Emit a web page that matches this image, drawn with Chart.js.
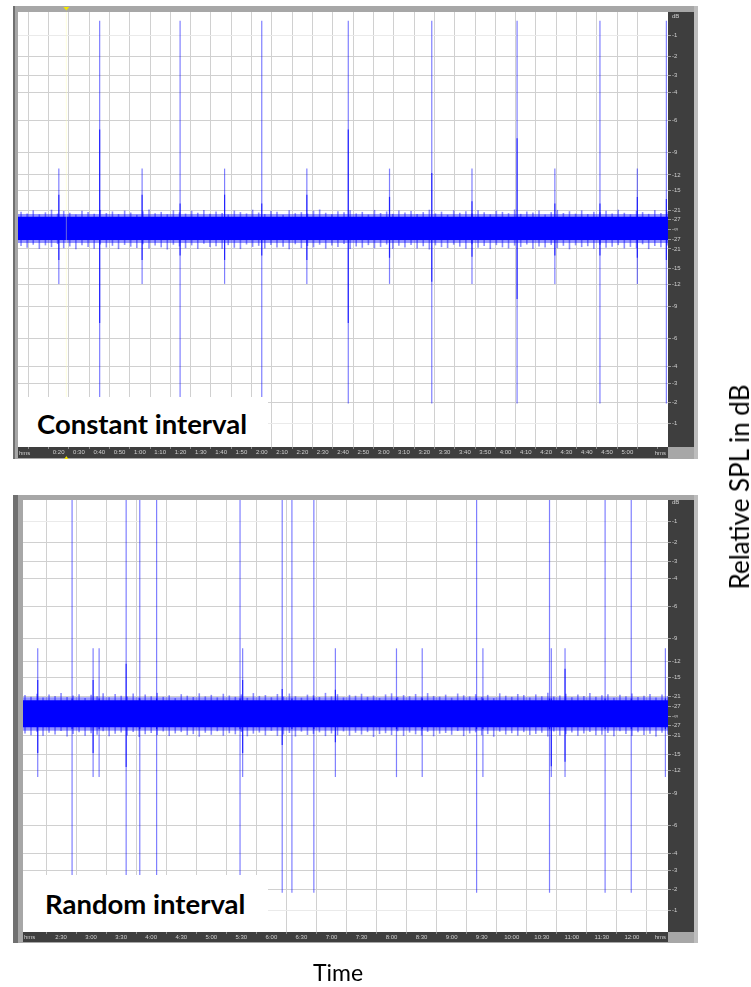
<!DOCTYPE html>
<html>
<head>
<meta charset="utf-8">
<script src="https://cdn.jsdelivr.net/npm/chart.js@4.4.1/dist/chart.umd.min.js"></script>
<style>
  html, body { margin: 0; padding: 0; background: #fff; }
  body { width: 751px; height: 987px; position: relative; overflow: hidden; font-family: Lato, "Open Sans", sans-serif; }
  canvas { position: absolute; left: 0; }
  #waveTop { top: 0; }
  #waveBottom { top: 480px; }
  .tag { position: absolute; background: #fff; }
  .tag span { position: absolute; font-weight: 700; font-size: 27.5px; line-height: 28px; color: #000; white-space: nowrap; }
  #axisY { position: absolute; left: 739px; top: 487px; transform: translate(-50%, -50%) rotate(-90deg); font-size: 26px; color: #000; white-space: nowrap; }
  #axisX { position: absolute; left: 338px; top: 972px; transform: translate(-50%, -50%); font-size: 23px; color: #000; white-space: nowrap; }
</style>
</head>
<body>
<canvas id="waveTop" width="751" height="470"></canvas>
<canvas id="waveBottom" width="751" height="480"></canvas>
<div class="tag" style="left:18px; top:397px; width:250px; height:50px;"><span style="left:19px; top:13px;">Constant interval</span></div>
<div class="tag" style="left:23px; top:875px; width:245px; height:57px;"><span style="left:22px; top:15px;">Random interval</span></div>
<div id="axisY">Relative SPL in dB</div>
<div id="axisX">Time</div>

<script>
// ---- level ruler (dB marks, placed on a linear amplitude axis) ----
const dbLevels = [-1, -2, -3, -4, -6, -9, -12, -15, -21, -27];
const dbUnitLabel = 'dB';

// ---- time rulers (seconds) and their labels ----
const timeTicksTop = [0, 10, 20, 30, 40, 50, 60, 70, 80, 90, 100, 110, 120, 130, 140, 150, 160, 170, 180, 190,
  200, 210, 220, 230, 240, 250, 260, 270, 280, 290, 300, 310, 320];
const timeLabelsTop = ['', '', '0:20', '0:30', '0:40', '0:50', '1:00', '1:10', '1:20', '1:30', '1:40', '1:50', '2:00',
  '2:10', '2:20', '2:30', '2:40', '2:50', '3:00', '3:10', '3:20', '3:30', '3:40', '3:50', '4:00', '4:10', '4:20',
  '4:30', '4:40', '4:50', '5:00', '', ''];
const timeTicksBottom = [120, 150, 180, 210, 240, 270, 300, 330, 360, 390, 420, 450, 480, 510, 540, 570, 600,
  630, 660, 690, 720, 750];
const timeLabelsBottom = ['', '2:30', '3:00', '3:30', '4:00', '4:30', '5:00', '5:30', '6:00', '6:30', '7:00',
  '7:30', '8:00', '8:30', '9:00', '9:30', '10:00', '10:30', '11:00', '11:30', '12:00', ''];

// ---- constant interval recording: click events (s) and peak amplitudes (full scale = 1) ----
const eventTimesTop = [20.1, 40.2, 61.1, 79.8, 101.7, 120.0, 142.2, 162.6, 182.9, 203.7, 223.5, 245.7, 264.3, 286.5, 304.9, 319.2];
const peakHighTop = [0.28, 0.96, 0.28, 0.96, 0.28, 0.96, 0.28, 0.96, 0.28, 0.96, 0.28, 0.96, 0.28, 0.96, 0.28, 0.96];
const peakLowTop = [-0.25, -0.80, -0.25, -0.80, -0.25, -0.80, -0.25, -0.80, -0.25, -0.80, -0.25, -0.80, -0.25, -0.80, -0.25, -0.80];
const coreHighTop = [0.16, 0.46, 0.16, 0.12, 0.16, 0.12, 0.16, 0.46, 0.15, 0.26, 0.13, 0.42, 0.12, 0.12, 0.15, 0.14];
const coreLowTop = [-0.14, -0.43, -0.14, -0.12, -0.14, -0.12, -0.14, -0.43, -0.13, -0.24, -0.125, -0.32, -0.12, -0.12, -0.13, -0.14];

// background noise floor: steady core, softer fringe and its ragged edge peaks (thousandths of full scale)
const noiseCoreTop = [-0.048, 0.059];
const noiseFringeTop = [-0.062, 0.071];
const noiseStartTop = 1.5, noiseStepTop = 3;
const noisePeakHighTop = [82,74,88,70,79,91,73,85,77,69,86,80,72,90,76,83,71,87,78,68,84,92,75,81,70,88,79,73,86,77,
  90,72,83,76,69,87,80,74,91,78,71,85,82,68,89,75,80,73,86,92,77,70,84,79,88,74,81,69,90,76,83,72,87,78,85,71,80,91,
  74,82,68,88,77,84,73,89,79,70,86,81,75,92,72,83,78,87,69,80,90,76,84,73,88,71,82,79,86,74,91,77,70,85,80,72,89,76,83];
const noisePeakLowTop = [-76,-84,-70,-89,-73,-81,-67,-86,-78,-91,-72,-80,-88,-69,-83,-75,-90,-71,-79,-85,-68,-87,-74,
  -82,-92,-70,-78,-86,-73,-89,-66,-81,-77,-88,-72,-84,-90,-69,-80,-75,-87,-71,-83,-79,-91,-68,-85,-76,-82,-70,-88,-74,
  -81,-67,-90,-78,-84,-72,-86,-80,-69,-89,-75,-83,-71,-87,-77,-92,-73,-81,-85,-70,-79,-88,-68,-84,-76,-90,-72,-82,-87,
  -74,-80,-69,-89,-78,-83,-71,-86,-75,-91,-73,-81,-77,-88,-70,-84,-79,-72,-87,-80,-85,-68,-90,-76,-82,-74];
const playheadTop = 23.8;

// ---- random interval recording ----
const eventTimesBottom = [126.7, 161.0, 182.0, 188.0, 215.0, 228.6, 245.4, 328.7, 331.3, 370.8, 380.5, 402.4, 423.9,
  484.9, 510.6, 564.9, 571.2, 637.7, 639.5, 653.2, 693.2, 719.3, 753.4];
const peakHighBottom = [0.31, 1, 0.31, 0.31, 1, 1, 1, 1, 0.31, 1, 1, 1, 0.31, 0.31, 0.31, 1, 0.31, 1, 0.31, 0.31, 1, 1, 0.31];
const peakLowBottom = [-0.28, -0.81, -0.28, -0.28, -0.81, -0.81, -0.81, -0.81, -0.28, -0.81, -0.81, -0.81, -0.28,
  -0.28, -0.28, -0.81, -0.28, -0.81, -0.28, -0.28, -0.81, -0.81, -0.28];
const coreHighBottom = [0.165, 0.08, 0.165, 0.08, 0.24, 0.08, 0.08, 0.08, 0.165, 0.124, 0.08, 0.08, 0.12, 0.08, 0.08,
  0.08, 0.08, 0.08, 0.08, 0.216, 0.08, 0.08, 0.08];
const coreLowBottom = [-0.17, -0.06, -0.17, -0.06, -0.234, -0.06, -0.06, -0.06, -0.17, -0.133, -0.06, -0.06, -0.12,
  -0.06, -0.06, -0.06, -0.06, -0.06, -0.23, -0.21, -0.06, -0.06, -0.06];

const noiseCoreBottom = [-0.052, 0.072];
const noiseFringeBottom = [-0.068, 0.086];
const noiseStartBottom = 114, noiseStepBottom = 6;
const noisePeakHighBottom = [96,88,102,85,99,92,105,87,94,100,83,97,90,104,86,101,93,89,103,84,98,91,106,88,95,82,100,
  93,87,104,90,97,85,102,94,88,99,83,105,92,96,86,101,89,103,91,84,98,95,87,106,90,100,85,97,93,102,88,94,83,99,104,87,
  96,91,101,86,105,92,89,98,84,103,95,90,100,87,97,82,104,93,88,101,96,85,99,91,106,89,94,102,86,98,92,105,88,95,100,
  84,97,90,103,87,93,101,85,99,92];
const noisePeakLowBottom = [-80,-88,-72,-91,-77,-85,-69,-94,-82,-75,-90,-79,-86,-70,-93,-81,-76,-89,-73,-96,-84,-78,
  -87,-71,-92,-80,-74,-88,-83,-95,-77,-86,-70,-90,-79,-84,-73,-93,-81,-76,-89,-68,-91,-85,-78,-94,-72,-87,-82,-75,-92,
  -80,-88,-71,-90,-77,-85,-74,-96,-83,-79,-87,-70,-91,-76,-84,-89,-73,-93,-81,-78,-86,-69,-92,-80,-75,-88,-83,-95,-72,
  -85,-79,-90,-74,-87,-82,-77,-94,-71,-89,-84,-76,-91,-80,-73,-88,-86,-78,-93,-70,-82,-90,-75,-87,-81,-94,-77,-85];

// ---- colours ----
const WAVE = '#0000ff';
const STRIP = '#3e3e3e';
const FRAME = '#a7a7a7';
const GRID = '#d0d0d0';
const GRID_FAINT = '#eaeaea';
const RULER_TEXT = '#cfcfcf';

// level ruler entries: unit label on top, then dB marks down to -inf and back out
function levelRuler() {
  const list = [{ value: 0.98, label: dbUnitLabel, unit: true }];
  dbLevels.forEach(d => list.push({ value: Math.pow(10, d / 20), label: String(d), faint: d === -1 }));
  list.push({ value: 0, label: '-\u221e' });
  dbLevels.slice().reverse().forEach(d => list.push({ value: -Math.pow(10, d / 20), label: String(d), faint: d === -1 }));
  return list;
}

// draws the editor frame, dark rulers and the plot background
const editorFrame = {
  id: 'editorFrame',
  beforeDraw(chart, args, o) {
    const { ctx, chartArea: a } = chart;
    const xs = chart.scales.x, ys = chart.scales.y;
    ctx.save();
    ctx.fillStyle = FRAME;
    ctx.fillRect(o.left, o.top, ys.right + 4 - o.left, xs.bottom + 1 - o.top);
    ctx.fillStyle = '#bdbdbd';
    ctx.fillRect(ys.right, o.top, 4, xs.bottom + 1 - o.top);
    ctx.fillStyle = '#707070';
    ctx.fillRect(o.left, o.top, o.rim, xs.bottom + 1 - o.top);
    ctx.fillStyle = '#ffffff';
    ctx.fillRect(a.left, a.top, a.width, a.height);
    ctx.fillStyle = STRIP;
    ctx.fillRect(ys.left, a.top, ys.right - ys.left, a.height);
    ctx.fillRect(a.left, xs.top, a.width, xs.bottom - xs.top);
    ctx.restore();
  },
  afterDraw(chart, args, o) {
    const { ctx, chartArea: a } = chart;
    const xs = chart.scales.x;
    ctx.save();
    ctx.font = '6px "Liberation Sans", Arial, sans-serif';
    ctx.fillStyle = RULER_TEXT;
    ctx.textBaseline = 'middle';
    const ym = (xs.top + xs.bottom) / 2 + 0.5;
    ctx.textAlign = 'left';
    ctx.fillText('hms', a.left + o.hmsInset, ym);
    ctx.textAlign = 'right';
    ctx.fillText('hms', a.right - 2, ym);
    if (o.playhead != null) {
      const px = xs.getPixelForValue(o.playhead);
      ctx.fillStyle = '#f2e600';
      ctx.beginPath();
      ctx.moveTo(px - 3, a.top - 5); ctx.lineTo(px + 3, a.top - 5); ctx.lineTo(px, a.top - 1.5); ctx.closePath();
      ctx.fill();
      ctx.beginPath();
      ctx.moveTo(px - 2, xs.bottom + 1); ctx.lineTo(px + 2, xs.bottom + 1); ctx.lineTo(px, xs.bottom - 2); ctx.closePath();
      ctx.fill();
    }
    ctx.restore();
  }
};

function makeWave(id, p) {
  const ruler = levelRuler();
  const noise = p.noiseHigh.map((h, i) => ({ x: p.noiseStart + i * p.noiseStep, y: [p.noiseLow[i] / 1000, h / 1000] }));
  const outer = p.times.map((t, i) => ({ x: t, y: [p.peakLow[i], p.peakHigh[i]] }));
  const inner = p.times.map((t, i) => ({ x: t, y: [p.coreLow[i], p.coreHigh[i]] }));
  const barBase = { type: 'bar', grouped: false, borderWidth: 0, borderSkipped: false, inflateAmount: 0 };
  const bandLine = (lo, hi, colour, order) => ({
    type: 'line', data: [{ x: p.min, y: hi }, { x: p.max, y: hi }], fill: { value: lo },
    backgroundColor: colour, borderWidth: 0, pointRadius: 0, order
  });
  const datasets = [
    bandLine(p.noiseFringe[0], p.noiseFringe[1], 'rgba(0,0,255,0.42)', 6),
    bandLine(p.noiseCore[0], p.noiseCore[1], WAVE, 5),
    Object.assign({ data: noise, backgroundColor: 'rgba(0,0,255,0.45)', barThickness: 1.6, order: 4 }, barBase),
    Object.assign({ data: outer, backgroundColor: 'rgba(0,0,255,0.5)', barThickness: 1.2, order: 2 }, barBase),
    Object.assign({ data: inner, backgroundColor: 'rgba(0,0,255,0.72)', barThickness: 1.2, order: 1 }, barBase)
  ];
  if (p.playhead != null) {
    datasets.push({ type: 'line', data: [{ x: p.playhead, y: p.yMin }, { x: p.playhead, y: p.yMax }],
      borderColor: 'rgba(255,255,175,0.4)', borderWidth: 1, pointRadius: 0, fill: false, order: 0 });
  }
  return new Chart(document.getElementById(id), {
    type: 'bar',
    data: { datasets },
    plugins: [editorFrame],
    options: {
      responsive: false,
      animation: false,
      events: [],
      layout: { padding: p.padding },
      plugins: {
        legend: { display: false },
        tooltip: { enabled: false },
        editorFrame: { left: p.frame.left, top: p.frame.top, rim: p.frame.rim, hmsInset: p.hmsInset, playhead: p.playhead }
      },
      scales: {
        x: {
          type: 'linear', min: p.min, max: p.max, offset: false,
          afterBuildTicks: s => { s.ticks = p.timeTicks.map(v => ({ value: v })); },
          afterFit: s => { s.height = p.rulerHeight; },
          ticks: {
            autoSkip: false, maxRotation: 0, minRotation: 0, padding: 0,
            color: RULER_TEXT, font: { size: 6, family: '"Liberation Sans", Arial, sans-serif' },
            callback: (v, i) => p.timeLabels[i]
          },
          grid: {
            color: c => (c.tick && (c.tick.value === p.min || c.tick.value === p.max)) ? 'rgba(0,0,0,0)' : GRID,
            tickColor: '#8a8a8a', tickLength: 2, lineWidth: 1
          },
          border: { display: false }
        },
        y: {
          type: 'linear', position: 'right', min: p.yMin, max: p.yMax,
          afterBuildTicks: s => { s.ticks = ruler.map(r => ({ value: r.value })); },
          afterFit: s => { s.width = 26; },
          ticks: {
            autoSkip: false, padding: 1, color: RULER_TEXT,
            font: { size: 6, family: '"Liberation Sans", Arial, sans-serif' },
            callback: (v, i) => ruler[i].label
          },
          grid: {
            color: c => { const r = ruler[c.index]; return !r || r.unit ? 'rgba(0,0,0,0)' : (r.faint ? GRID_FAINT : GRID); },
            tickColor: c => { const r = ruler[c.index]; return !r || r.unit ? 'rgba(0,0,0,0)' : '#9a9a9a'; },
            tickLength: 3, lineWidth: 1
          },
          border: { display: false }
        }
      }
    }
  });
}

makeWave('waveTop', {
  min: 0, max: 320, yMin: -1, yMax: 1,
  padding: { left: 18, top: 12, right: 57, bottom: 12 },
  frame: { left: 13, top: 6, rim: 2 }, rulerHeight: 11, hmsInset: 1,
  timeTicks: timeTicksTop, timeLabels: timeLabelsTop,
  times: eventTimesTop, peakHigh: peakHighTop, peakLow: peakLowTop, coreHigh: coreHighTop, coreLow: coreLowTop,
  noiseCore: noiseCoreTop, noiseFringe: noiseFringeTop, noiseStart: noiseStartTop, noiseStep: noiseStepTop,
  noiseHigh: noisePeakHighTop, noiseLow: noisePeakLowTop,
  playhead: playheadTop
});

makeWave('waveBottom', {
  min: 112, max: 756, yMin: -0.99, yMax: 0.99,
  padding: { left: 23, top: 20, right: 57, bottom: 18 },
  frame: { left: 13, top: 15, rim: 5 }, rulerHeight: 10, hmsInset: 1,
  timeTicks: timeTicksBottom, timeLabels: timeLabelsBottom,
  times: eventTimesBottom, peakHigh: peakHighBottom, peakLow: peakLowBottom, coreHigh: coreHighBottom, coreLow: coreLowBottom,
  noiseCore: noiseCoreBottom, noiseFringe: noiseFringeBottom, noiseStart: noiseStartBottom, noiseStep: noiseStepBottom,
  noiseHigh: noisePeakHighBottom, noiseLow: noisePeakLowBottom,
  playhead: null
});
</script>
</body>
</html>
